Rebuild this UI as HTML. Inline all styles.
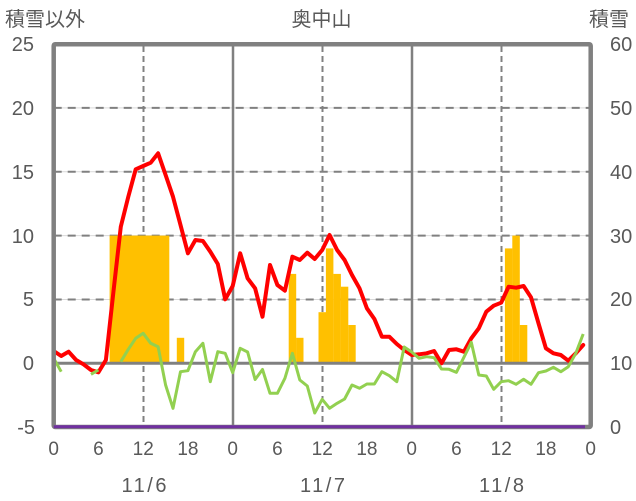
<!DOCTYPE html>
<html><head><meta charset="utf-8"><style>
html,body{margin:0;padding:0;background:#fff;}
svg{display:block;}
text{font-family:"Liberation Sans","Noto Sans CJK JP",sans-serif;fill:#595959;}
</style></head><body>
<svg width="636" height="501" viewBox="0 0 636 501" xmlns="http://www.w3.org/2000/svg">
<rect x="0" y="0" width="636" height="501" fill="#fff"/>
<!-- horizontal gridlines -->
<g stroke="#d9d9d9" stroke-width="1">
<line x1="53.7" y1="107.9" x2="590.7" y2="107.9"/>
<line x1="53.7" y1="171.7" x2="590.7" y2="171.7"/>
<line x1="53.7" y1="235.6" x2="590.7" y2="235.6"/>
<line x1="53.7" y1="299.5" x2="590.7" y2="299.5"/>
</g>
<g stroke="#808080" stroke-width="2" stroke-dasharray="8,6">
<line x1="53.7" y1="107.9" x2="590.7" y2="107.9"/>
<line x1="53.7" y1="171.7" x2="590.7" y2="171.7"/>
<line x1="53.7" y1="235.6" x2="590.7" y2="235.6"/>
<line x1="53.7" y1="299.5" x2="590.7" y2="299.5"/>
</g>
<!-- vertical dashed at 12h -->
<g stroke="#808080" stroke-width="2" stroke-dasharray="6,4">
<line x1="143.5" y1="46" x2="143.5" y2="426"/>
<line x1="322.5" y1="46" x2="322.5" y2="426"/>
<line x1="501.5" y1="46" x2="501.5" y2="426"/>
</g>
<!-- day dividers -->
<g stroke="#808080" stroke-width="2.5">
<line x1="233" y1="44" x2="233" y2="427"/>
<line x1="412" y1="44" x2="412" y2="427"/>
</g>
<!-- bars -->
<g fill="#FFC000">
<rect x="109.6" y="235.6" width="59.7" height="127.7"/>
<rect x="176.8" y="337.8" width="7.4" height="25.5"/>
<rect x="288.7" y="273.9" width="7.5" height="89.4"/>
<rect x="296.1" y="337.8" width="7.4" height="25.5"/>
<rect x="318.5" y="312.2" width="7.5" height="51.1"/>
<rect x="325.9" y="248.4" width="7.5" height="114.9"/>
<rect x="333.4" y="273.9" width="7.5" height="89.4"/>
<rect x="340.8" y="286.7" width="7.5" height="76.6"/>
<rect x="348.3" y="325.0" width="7.4" height="38.3"/>
<rect x="504.9" y="248.4" width="7.5" height="114.9"/>
<rect x="512.3" y="235.6" width="7.5" height="127.7"/>
<rect x="519.8" y="325.0" width="7.5" height="38.3"/>
</g>
<!-- zero line -->
<line x1="53.7" y1="363.3" x2="590.7" y2="363.3" stroke="#808080" stroke-width="3"/>
<!-- red line -->
<polyline fill="none" stroke="#FF0000" stroke-width="4" stroke-linejoin="round" stroke-linecap="round" points="53.7,351 61.2,356 68.6,351.7 76.1,360 83.5,364.3 91.0,370 98.4,372.3 105.9,360 113.4,292 120.8,226.7 128.3,196.7 135.7,169.3 143.2,166 150.7,162.7 158.1,153.3 165.6,175 173.0,196.7 180.5,225 187.9,253.3 195.4,240 202.9,241 210.3,251.7 217.8,264 225.2,299.3 232.7,286 240.2,253.3 247.6,278.3 255.1,288.3 262.5,316.7 270.0,265 277.4,285 284.9,290.7 292.4,256.7 299.8,260 307.3,252.7 314.7,259 322.2,250 329.6,235 337.1,250 344.6,260 352.0,275 359.5,288.3 366.9,308.3 374.4,319 381.9,336.7 389.3,336.7 396.8,344 404.2,350 411.7,355 419.1,354.3 426.6,353.3 434.1,351 441.5,363.3 449.0,350 456.4,349.3 463.9,351.7 471.3,338.3 478.8,328.3 486.3,311.7 493.7,305.7 501.2,302.7 508.6,286.7 516.1,287.7 523.6,286 531.0,297.3 538.5,323.3 545.9,348.3 553.4,353.3 560.8,355 568.3,360.7 575.8,353.3 583.2,345"/>
<!-- green line -->
<g fill="none" stroke="#92D050" stroke-width="3" stroke-linejoin="round">
<polyline points="53.7,358.3 61.2,371.7"/>
<polyline points="91.0,374.3 98.4,370"/>
<polyline points="120.8,361.7 128.3,349.3 135.7,338.3 143.2,333.3 150.7,343.3 158.1,346.7 165.6,385 173.0,408.3 180.5,371.7 187.9,370.7 195.4,351.7 202.9,343.3 210.3,381.7 217.8,351.7 225.2,353.3 232.7,372.7 240.2,348.3 247.6,352 255.1,379.5 262.5,369.5 270.0,393.3 277.4,393.3 284.9,378.3 292.4,353.3 299.8,380 307.3,386 314.7,413 322.2,399.3 329.6,408.3 337.1,403.3 344.6,399 352.0,385 359.5,388.3 366.9,384 374.4,384 381.9,371.7 389.3,375.7 396.8,381.7 404.2,347 411.7,352 419.1,358.3 426.6,356.7 434.1,357.7 441.5,369 449.0,369.3 456.4,372.3 463.9,357.3 471.3,342.3 478.8,375 486.3,376 493.7,389.3 501.2,381.7 508.6,380.7 516.1,384.3 523.6,379.3 531.0,384.3 538.5,372.7 545.9,371 553.4,367.3 560.8,371.7 568.3,366.7 575.8,353.3 583.2,334"/>
</g>
<!-- frame -->
<rect x="53.7" y="44.2" width="537" height="382.8" fill="none" stroke="#808080" stroke-width="4.5" rx="1.5"/>
<!-- purple line -->
<line x1="53.7" y1="426.7" x2="585" y2="426.7" stroke="#7030A0" stroke-width="3"/>
<!-- titles -->
<text x="5" y="26" font-size="20">積雪以外</text>
<text x="321.5" y="26" font-size="20" text-anchor="middle">奥中山</text>
<text x="609" y="26" font-size="20" text-anchor="middle">積雪</text>
<!-- left ticks -->
<g font-size="20" text-anchor="end">
<text x="34" y="51">25</text>
<text x="34" y="115">20</text>
<text x="34" y="179">15</text>
<text x="34" y="243">10</text>
<text x="34" y="306">5</text>
<text x="34" y="370">0</text>
<text x="35" y="434">-5</text>
</g>
<!-- right ticks -->
<g font-size="20" text-anchor="start">
<text x="610" y="51">60</text>
<text x="610" y="115">50</text>
<text x="610" y="179">40</text>
<text x="610" y="243">30</text>
<text x="610" y="306">20</text>
<text x="610" y="370">10</text>
<text x="610" y="434">0</text>
</g>
<!-- x ticks -->
<g font-size="19" text-anchor="middle">
<text x="53.7" y="455">0</text>
<text x="98.4" y="455">6</text>
<text x="143.2" y="455">12</text>
<text x="187.9" y="455">18</text>
<text x="232.7" y="455">0</text>
<text x="277.4" y="455">6</text>
<text x="322.2" y="455">12</text>
<text x="366.9" y="455">18</text>
<text x="411.7" y="455">0</text>
<text x="456.4" y="455">6</text>
<text x="501.2" y="455">12</text>
<text x="545.9" y="455">18</text>
<text x="590.7" y="455">0</text>
</g>
<g font-size="20">
<text x="121.5" y="492" textLength="45" lengthAdjust="spacing">11/6</text>
<text x="300" y="492" textLength="45" lengthAdjust="spacing">11/7</text>
<text x="479" y="492" textLength="45" lengthAdjust="spacing">11/8</text>
</g>
</svg>
</body></html>
